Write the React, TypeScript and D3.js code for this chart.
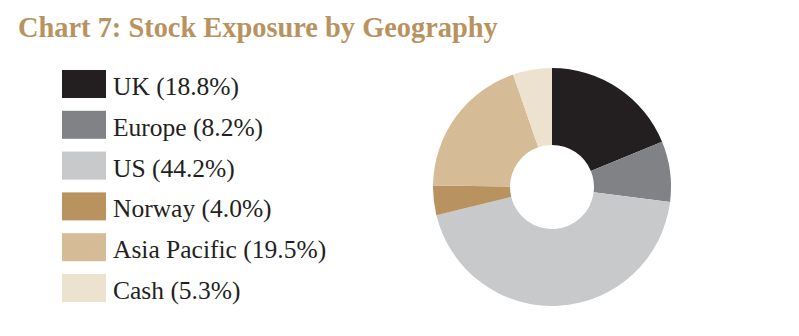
import React from "react";
import * as d3 from "d3";

const categories = ["UK", "Europe", "US", "Norway", "Asia Pacific", "Cash"];
const values = [18.8, 8.2, 44.2, 4.0, 19.5, 5.3];
const colors = ["#231f20", "#808285", "#c8c9cb", "#b8925f", "#d5bc96", "#ede1d0"];
const title = "Chart 7: Stock Exposure by Geography";

const W = 799;
const H = 336;

export default function App() {
  const cx = 552;
  const cy = 187;
  const outerR = 119;
  const innerR = 42;
  const pie = d3.pie<number>().sort(null).value((d) => d);
  const arcs = pie(values);
  const arc = d3.arc<d3.PieArcDatum<number>>().innerRadius(innerR).outerRadius(outerR);

  const legendY = d3.scaleLinear().domain([0, 1]).range([70, 110.8]);

  return (
    <svg width={W} height={H} style={{ position: "absolute", left: 0, top: 0, background: "#fff" }}>
      <text
        x={18}
        y={37}
        fontFamily="'Liberation Serif', 'DejaVu Serif', serif"
        fontWeight="bold"
        fontSize={28.4}
        fill="#b8935f"
      >
        {title}
      </text>
      {categories.map((c, i) => (
        <g key={c}>
          <rect x={62} y={legendY(i)} width={44} height={28} fill={colors[i]} />
          <text
            x={113}
            y={legendY(i) + 25}
            fontFamily="'Liberation Serif', 'DejaVu Serif', serif"
            fontSize={25.5}
            fill="#231f20"
          >
            {`${c} (${values[i].toFixed(1)}%)`}
          </text>
        </g>
      ))}
      <g transform={`translate(${cx},${cy})`}>
        {arcs.map((a, i) => (
          <path key={i} d={arc(a) || ""} fill={colors[i]} />
        ))}
      </g>
    </svg>
  );
}
